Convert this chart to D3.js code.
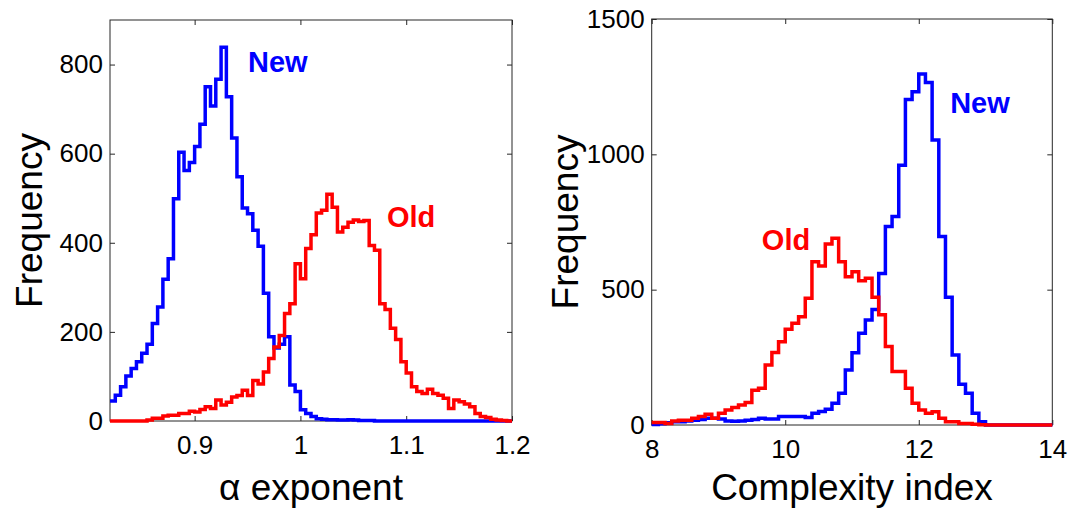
<!DOCTYPE html>
<html><head><meta charset="utf-8">
<script src="https://cdn.jsdelivr.net/npm/d3@7"></script>
<style>body{margin:0;background:#fff}svg{display:block}</style>
</head><body><svg id="c" width="1082" height="512"></svg>
<script>
// ---- data ----
const alphaBinStart = 0.82, alphaBinWidth = 0.005;
const alphaNew = [45,58,77,101,118,133,152,172,219,256,318,364,499,603,562,580,616,666,750,707,
  767,839,728,635,548,478,465,428,392,287,189,164,172,189,81,66,25,17,10,5,
  4,3,3,2,2,3,2,1,1,1,0,0,0,0,0,0,0,0,0,0,
  0,0,0,0,0,0,0,0,0,0,0,0,0,0,0,0];
const alphaOld = [0,0,0,0,0,0,0,2,6,6,11,13,13,17,17,22,20,26,32,28,
  47,36,42,54,57,69,57,91,83,110,140,166,192,241,263,353,319,387,418,467,
  473,509,480,424,435,446,451,448,450,394,383,263,250,208,183,133,108,77,66,62,
  71,62,58,51,28,47,43,38,32,17,10,8,4,2,1,0];
const ciBinStart = 8, ciBinWidth = 0.1;
const ciNew = [2,5,8,12,12,15,18,20,25,25,22,15,14,15,18,20,25,22,22,31,
  31,31,31,28,43,50,58,80,117,203,267,339,388,427,560,733,770,960,1203,1231,
  1297,1265,1053,696,472,259,151,117,43,12,0,0,0,0,0,0,0,0,0,0];
const ciOld = [9,9,6,15,18,18,25,31,40,25,43,55,65,74,83,128,136,222,268,308,
  354,376,400,468,603,587,669,690,603,548,566,533,542,472,407,290,198,198,136,80,
  55,43,49,25,12,12,6,6,3,1,0,0,0,0,0,0,0,0,0,0];
const alphaXTicks = [0.9, 1, 1.1, 1.2];
const alphaXTickLabels = ["0.9", "1", "1.1", "1.2"];
const alphaYTicks = [0, 200, 400, 600, 800];
const ciXTicks = [8, 10, 12, 14];
const ciYTicks = [0, 500, 1000, 1500];
const seriesNames = ["New", "Old"];
const seriesColors = ["#0000ff", "#ff0000"];
// label anchor points in data coordinates [x, y] for New, Old
const alphaLabelPos = [[0.9504, 783], [1.0818, 436]];
const ciLabelPos = [[12.47, 1153], [9.65, 646]];

// ---- layout ----
const panels = [
  {box:[110, 512, 20, 421], xDom:[0.82, 1.2], yDom:[0, 900], start:alphaBinStart, w:alphaBinWidth,
   series:[alphaNew, alphaOld], xt:alphaXTicks, xtl:alphaXTickLabels, yt:alphaYTicks,
   xlabel:"\u03B1 exponent", labelPos:alphaLabelPos, ylabX:42},
  {box:[651.7, 1052.3, 19, 425], xDom:[8, 14], yDom:[0, 1500], start:ciBinStart, w:ciBinWidth,
   series:[ciNew, ciOld], xt:ciXTicks, xtl:ciXTicks.map(String), yt:ciYTicks,
   xlabel:"Complexity index", labelPos:ciLabelPos, ylabX:578}
];

const svg = d3.select("#c");
svg.append("rect").attr("width", 1082).attr("height", 512).attr("fill", "#fff");
const FONT = "'Liberation Sans', Arial, Helvetica, sans-serif";

panels.forEach(p => {
  const [L, R, T, B] = p.box;
  const x = d3.scaleLinear().domain(p.xDom).range([L, R]);
  const y = d3.scaleLinear().domain(p.yDom).range([B, T]);
  const g = svg.append("g");

  const styleAxis = sel => {
    sel.select(".domain").remove();
    sel.selectAll(".tick line").attr("stroke", "#262626").attr("stroke-width", 1);
    sel.selectAll(".tick text").attr("font-family", FONT).attr("font-size", 26).attr("fill", "#000");
  };
  g.append("g").attr("transform", `translate(0,${B})`)
    .call(d3.axisBottom(x).tickValues(p.xt).tickFormat((d, i) => p.xtl[i]).tickSizeInner(-5).tickSizeOuter(0).tickPadding(15))
    .call(styleAxis);
  g.append("g").attr("transform", `translate(0,${T})`)
    .call(d3.axisTop(x).tickValues(p.xt).tickFormat("").tickSizeInner(-5).tickSizeOuter(0))
    .call(styleAxis);
  g.append("g").attr("transform", `translate(${L},0)`)
    .call(d3.axisLeft(y).tickValues(p.yt).tickFormat(d3.format("d")).tickSizeInner(-5).tickSizeOuter(0).tickPadding(7))
    .call(styleAxis);
  g.append("g").attr("transform", `translate(${R},0)`)
    .call(d3.axisRight(y).tickValues(p.yt).tickFormat("").tickSizeInner(-5).tickSizeOuter(0))
    .call(styleAxis);
  g.append("rect").attr("x", L).attr("y", T).attr("width", R - L).attr("height", B - T)
    .attr("fill", "none").attr("stroke", "#262626").attr("stroke-width", 1);

  const line = d3.line().x(d => x(d[0])).y(d => y(d[1])).curve(d3.curveStepAfter);
  p.series.forEach((vals, si) => {
    const pts = vals.map((v, i) => [p.start + i * p.w, v]);
    pts.push([p.start + vals.length * p.w, vals[vals.length - 1]]);
    g.append("path").attr("d", line(pts)).attr("fill", "none")
      .attr("stroke", seriesColors[si]).attr("stroke-width", 3.5).attr("stroke-linejoin", "miter");
    const lp = p.labelPos[si];
    g.append("text").attr("x", x(lp[0])).attr("y", y(lp[1])).text(seriesNames[si])
      .attr("font-family", FONT).attr("font-weight", "bold").attr("font-size", 29)
      .attr("fill", seriesColors[si]);
  });

  g.append("text").attr("x", (L + R) / 2).attr("y", 500).attr("text-anchor", "middle")
    .attr("font-family", FONT).attr("font-size", 37).text(p.xlabel);
  g.append("text").attr("transform", `translate(${p.ylabX},${(T + B) / 2}) rotate(-90)`)
    .attr("text-anchor", "middle").attr("font-family", FONT).attr("font-size", 37).text("Frequency");
});
</script></body></html>
